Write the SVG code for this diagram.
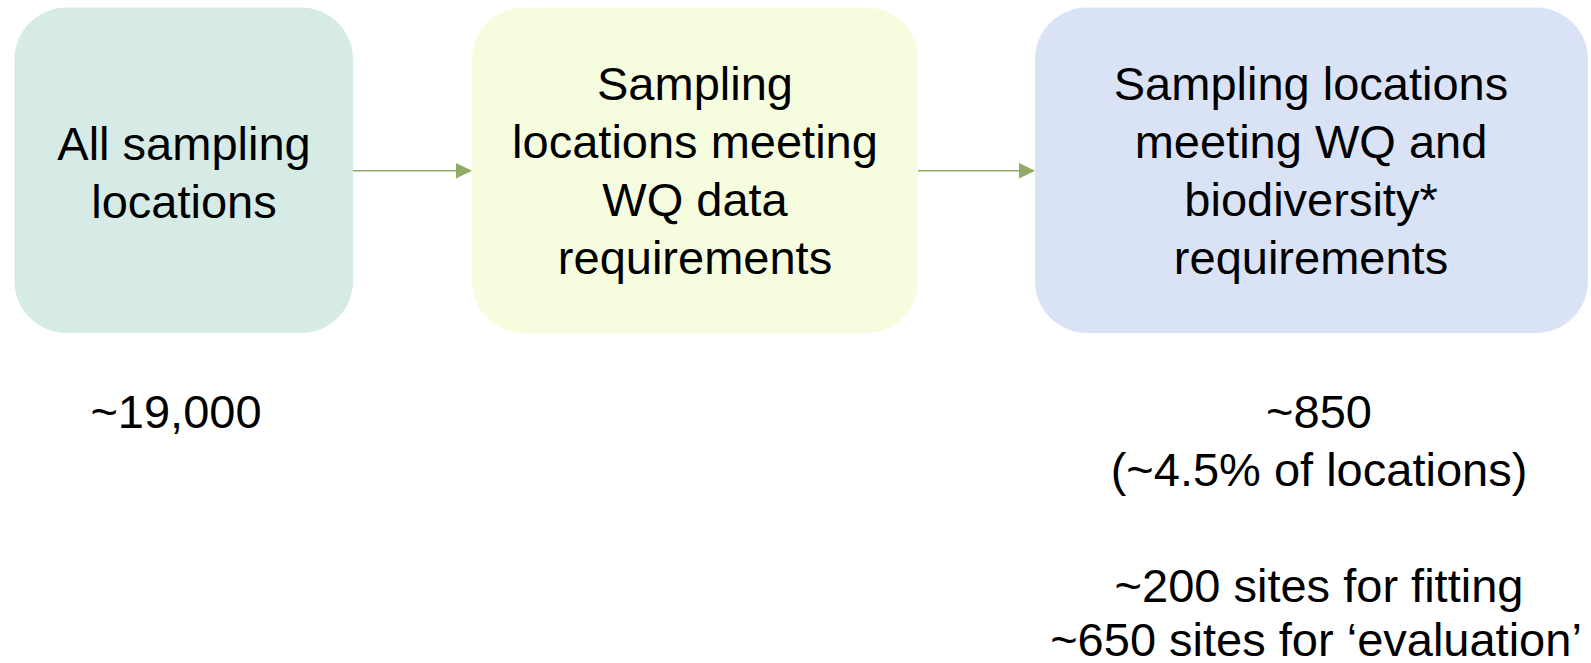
<svg xmlns="http://www.w3.org/2000/svg" width="1591" height="663" viewBox="0 0 1591 663">
<style>
text{font-family:"Liberation Sans",Arial,sans-serif;font-size:47px;fill:#000;text-anchor:middle}
.ln{stroke:#8faa65;stroke-width:1.6;fill:none}
.hd{fill:#8faa65}
</style>
<rect width="1591" height="663" fill="#fff"/>
<g id="node-all">
<rect x="14.5" y="7.5" width="338.5" height="325.5" rx="52" fill="#d6ebe6"/>
<text x="184" y="160">All sampling</text>
<text x="184" y="218">locations</text>
</g>
<g id="node-wq">
<rect x="472" y="7.5" width="446" height="325.5" rx="52" fill="#f6fddf"/>
<text x="695" y="100">Sampling</text>
<text x="695" y="158">locations meeting</text>
<text x="695" y="216">WQ data</text>
<text x="695" y="274">requirements</text>
</g>
<g id="node-bio">
<rect x="1035" y="7.5" width="553" height="325.5" rx="52" fill="#dae3f6"/>
<text x="1311" y="100">Sampling locations</text>
<text x="1311" y="158">meeting WQ and</text>
<text x="1311" y="216">biodiversity*</text>
<text x="1311" y="274">requirements</text>
</g>
<g id="connectors">
<line class="ln" x1="353" y1="170.7" x2="457" y2="170.7"/>
<polygon class="hd" points="456,163 472,170.7 456,178.4"/>
<line class="ln" x1="918" y1="170.7" x2="1020" y2="170.7"/>
<polygon class="hd" points="1019,163 1035,170.7 1019,178.4"/>
</g>
<g id="labels">
<text x="176" y="428">~19,000</text>
<text x="1319" y="428">~850</text>
<text x="1319" y="486">(~4.5% of locations)</text>
<text x="1319" y="602">~200 sites for fitting</text>
<text x="1316" y="656">~650 sites for ‘evaluation’</text>
</g>
</svg>
